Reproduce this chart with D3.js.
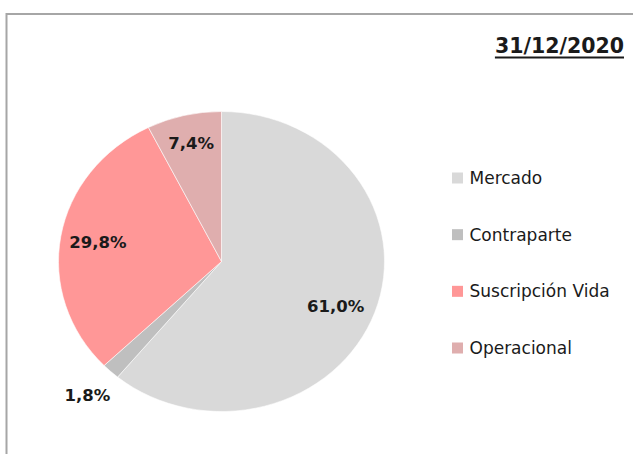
<!DOCTYPE html>
<html>
<head>
<meta charset="utf-8">
<script src="https://cdn.jsdelivr.net/npm/d3@7"></script>
<style>
  html, body { margin: 0; padding: 0; background: #fff; }
  svg { display: block; }
</style>
</head>
<body>
<svg id="chart" width="633" height="454"></svg>
<script>
// ---- data ----
const title = "31/12/2020";
const categories = ["Mercado", "Contraparte", "Suscripción Vida", "Operacional"];
const values = [61.0, 1.8, 29.8, 7.4];

// ---- styles ----
const palette = ["#d9d9d9", "#bfbfbf", "#ff9797", "#dfaeae"];
const color = d3.scaleOrdinal().domain(categories).range(palette);
const fmt = v => d3.format(".1f")(v).replace(".", ",") + "%";

const W = 633, H = 454;
const svg = d3.select("#chart");

// frame (top and left border)
svg.append("line").attr("x1", 6.5).attr("x2", W).attr("y1", 14).attr("y2", 14)
  .attr("stroke", "#a6a6a6").attr("stroke-width", 2);
svg.append("line").attr("x1", 6.5).attr("x2", 6.5).attr("y1", 13).attr("y2", H)
  .attr("stroke", "#a6a6a6").attr("stroke-width", 2);

// title
const t = svg.append("text").attr("x", 624).attr("y", 53.3)
  .attr("text-anchor", "end")
  .attr("font-family", "DejaVu Sans").attr("font-weight", "bold")
  .attr("font-size", 20.5).attr("fill", "#1a1a1a").text(title);
const tb = t.node().getBBox();
svg.append("line").attr("x1", tb.x).attr("x2", tb.x + tb.width)
  .attr("y1", 57.5).attr("y2", 57.5).attr("stroke", "#1a1a1a").attr("stroke-width", 2);

// pie
const cx = 221.5, cy = 261.5, R = 150, sx = 163 / 150;
const pie = d3.pie().sort(null).value(d => d.value);
const arcs = pie(categories.map((c, i) => ({ name: c, value: values[i] })));
const arc = d3.arc().innerRadius(0).outerRadius(R);

const g = svg.append("g").attr("transform", `translate(${cx},${cy})`);
g.append("g").attr("transform", `scale(${sx},1)`)
  .selectAll("path").data(arcs).join("path")
  .attr("d", arc)
  .attr("fill", d => color(d.data.name))
  .attr("stroke", "#ffffff").attr("stroke-width", 0.7).attr("stroke-opacity", 0.8);

// label placement (best-fit style): radius factor and angular nudge per slice
const labelRadius = [0.76, 1.21, 0.77, 0.81];
const labelNudge = [0.055, 0, 0, 0];
g.selectAll("text.lbl").data(arcs).join("text")
  .attr("class", "lbl")
  .each(function(d, i) {
    const r = R * labelRadius[i];
    const a = (d.startAngle + d.endAngle) / 2 + labelNudge[i];
    d3.select(this).attr("x", Math.sin(a) * r * sx).attr("y", -Math.cos(a) * r);
  })
  .attr("dy", "0.36em")
  .attr("text-anchor", "middle")
  .attr("font-family", "DejaVu Sans").attr("font-weight", "bold")
  .attr("font-size", 16.5).attr("fill", "#1a1a1a")
  .text(d => fmt(d.data.value));

// legend
const ly = d3.scalePoint().domain(categories).range([178, 348]);
const leg = svg.append("g").selectAll("g").data(categories).join("g")
  .attr("transform", d => `translate(452,${ly(d)})`);
leg.append("rect").attr("x", 0).attr("y", -5.5).attr("width", 11).attr("height", 11)
  .attr("fill", d => color(d));
leg.append("text").attr("x", 17.5).attr("y", 0).attr("dy", "0.36em")
  .attr("font-family", "DejaVu Sans").attr("font-size", 17)
  .attr("fill", "#1a1a1a").text(d => d);
</script>
</body>
</html>
